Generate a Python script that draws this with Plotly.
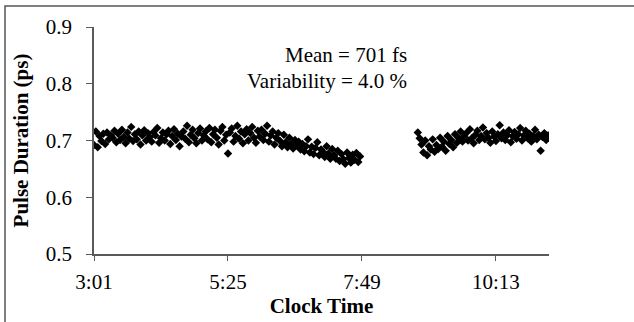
import plotly.graph_objects as go

# Segment 1: clock time in minutes after midnight, pulse duration in ps
time_seg1 = [181, 183, 185, 187, 189, 191, 193, 195, 197, 199,
             201, 203, 205, 207, 209, 211, 213, 215, 217, 219, 221, 223, 225, 227, 229, 231, 233, 235, 237, 239,
             241, 243, 245, 247, 249, 251, 253, 255, 257, 259, 261, 263, 265, 267, 269, 271, 273, 275, 277, 279,
             281, 283, 285, 287, 289, 291, 293, 295, 297, 299,
             301, 303, 305, 307, 309, 311, 313, 315, 317, 319, 321, 323, 325, 327, 329, 331, 333, 335, 337, 339,
             341, 343, 345, 347, 349, 351, 353, 355, 357, 359,
             361, 363, 365, 367, 369, 371, 373, 375, 377, 379, 381, 383, 385, 387, 389, 391, 393, 395, 397, 399,
             401, 403, 405, 407, 409, 411, 413, 415, 417, 419, 421, 423, 425, 427, 429, 431, 433, 435, 437, 439,
             441, 443, 445, 447, 449, 451, 453, 455, 457, 459, 461, 463, 465, 467]
pulse_seg1 = [0.692, 0.716, 0.688, 0.708, 0.699, 0.712, 0.694, 0.714, 0.702, 0.709,
              0.705, 0.717, 0.697, 0.712, 0.701, 0.719, 0.706, 0.695, 0.714, 0.703,
              0.724, 0.699, 0.711, 0.702, 0.716, 0.693, 0.709, 0.718, 0.700, 0.713,
              0.706, 0.698, 0.715, 0.709, 0.722, 0.696, 0.704, 0.714, 0.700, 0.711,
              0.717, 0.694, 0.708, 0.720, 0.701, 0.712, 0.690, 0.707, 0.716, 0.703,
              0.726, 0.697, 0.710, 0.719, 0.704, 0.695, 0.713, 0.721, 0.700, 0.709,
              0.716, 0.702, 0.722, 0.697, 0.711, 0.719, 0.705, 0.693, 0.717, 0.724,
              0.700, 0.710, 0.677, 0.714, 0.721, 0.698, 0.708, 0.726, 0.703, 0.716,
              0.695, 0.711, 0.720, 0.700, 0.713, 0.724, 0.705, 0.696, 0.717, 0.707,
              0.719, 0.701, 0.712, 0.726, 0.698, 0.709, 0.716, 0.693, 0.705, 0.713,
              0.699, 0.690, 0.710, 0.697, 0.688, 0.705, 0.694, 0.686, 0.701, 0.691,
              0.698, 0.684, 0.694, 0.681, 0.690, 0.702, 0.679, 0.689, 0.676, 0.687,
              0.697, 0.674, 0.684, 0.680, 0.671, 0.690, 0.677, 0.668, 0.685, 0.674,
              0.668, 0.682, 0.664, 0.676, 0.667, 0.659, 0.679, 0.669, 0.661, 0.675, 0.666, 0.678, 0.662, 0.672]

# Segment 2
time_seg2 = [529, 531, 533, 535, 537, 539, 541, 543, 545, 547,
             549, 551, 553, 555, 557, 559, 561, 563, 565, 567, 569, 571, 573, 575, 577, 579,
             581, 583, 585, 587, 589, 591, 593, 595, 597, 599, 601, 603, 605, 607, 609,
             611, 613, 615, 617, 619, 621, 623, 625, 627, 629, 631, 633, 635, 637, 639,
             641, 643, 645, 647, 649, 651, 653, 655, 657, 659, 661, 663, 665, 667, 669]
pulse_seg2 = [0.714, 0.704, 0.693, 0.679, 0.700, 0.674, 0.690, 0.684, 0.702, 0.680,
              0.692, 0.685, 0.705, 0.689, 0.698, 0.682, 0.708, 0.694, 0.701, 0.688, 0.711, 0.696, 0.704, 0.716, 0.698, 0.708,
              0.713, 0.700, 0.720, 0.704, 0.695, 0.710, 0.717, 0.701, 0.708, 0.723,
              0.702, 0.713, 0.705, 0.696, 0.716, 0.707, 0.699, 0.711, 0.727, 0.704,
              0.714, 0.701, 0.709, 0.718, 0.697, 0.708, 0.715, 0.703, 0.711, 0.722,
              0.700, 0.709, 0.717, 0.704, 0.712, 0.698, 0.708, 0.719, 0.702, 0.710,
              0.682, 0.706, 0.713, 0.701, 0.709]

assert len(time_seg1) == len(pulse_seg1)
assert len(time_seg2) == len(pulse_seg2)

x_tick_vals = [181, 325, 469, 613]
x_tick_text = ["3:01", "5:25", "7:49", "10:13"]
y_tick_vals = [0.5, 0.6, 0.7, 0.8, 0.9]

FONT = "Liberation Serif, Times New Roman, serif"
AXIS_COLOR = "#5a5a5a"
FS = 21

fig = go.Figure()
marker = dict(symbol="diamond", size=6.5, color="black", line=dict(width=0))
fig.add_trace(go.Scatter(x=time_seg1, y=pulse_seg1, mode="markers", marker=marker, showlegend=False))
fig.add_trace(go.Scatter(x=time_seg2, y=pulse_seg2, mode="markers", marker=marker, showlegend=False))

fig.update_layout(
    width=634, height=322,
    margin=dict(l=94, r=85, t=27, b=68),
    paper_bgcolor="white", plot_bgcolor="white",
    font=dict(family=FONT, size=FS, color="black"),
    xaxis=dict(
        range=[181, 670], tickvals=x_tick_vals, ticktext=x_tick_text, automargin=False,
        showgrid=False, zeroline=False, showline=True, linecolor=AXIS_COLOR, linewidth=1.5,
        ticks="outside", ticklen=5, tickcolor=AXIS_COLOR, tickwidth=1.2,
        tickfont=dict(family=FONT, size=FS), ticklabelstandoff=3,
        title=dict(text="<b>Clock Time</b>", font=dict(family=FONT, size=FS), standoff=5),
    ),
    yaxis=dict(
        range=[0.5, 0.9], tickvals=y_tick_vals, tickformat=".1f", automargin=False,
        showgrid=False, zeroline=False, showline=True, linecolor=AXIS_COLOR, linewidth=1.5,
        ticks="outside", ticklen=6, tickcolor=AXIS_COLOR, tickwidth=1.2,
        tickfont=dict(family=FONT, size=FS), ticklabelstandoff=10,
        title=dict(text="<b>Pulse Duration (ps)</b>", font=dict(family=FONT, size=FS), standoff=11),
    ),
    shapes=[dict(type="rect", xref="paper", yref="paper",
                 x0=-0.1956, x1=1.3, y0=-0.4, y1=1.0925,
                 line=dict(color="#555555", width=1.5), fillcolor="rgba(0,0,0,0)", layer="below")],
    annotations=[
        dict(text="Mean = 701 fs", xref="paper", yref="paper", x=0.692, y=0.877,
             xanchor="right", yanchor="middle", showarrow=False, font=dict(family=FONT, size=FS)),
        dict(text="Variability = 4.0 %", xref="paper", yref="paper", x=0.692, y=0.762,
             xanchor="right", yanchor="middle", showarrow=False, font=dict(family=FONT, size=FS)),
    ],
)

fig.write_html("out.html", config={"displayModeBar": False},
               post_script="document.body.style.margin='0';document.body.style.padding='0';")
